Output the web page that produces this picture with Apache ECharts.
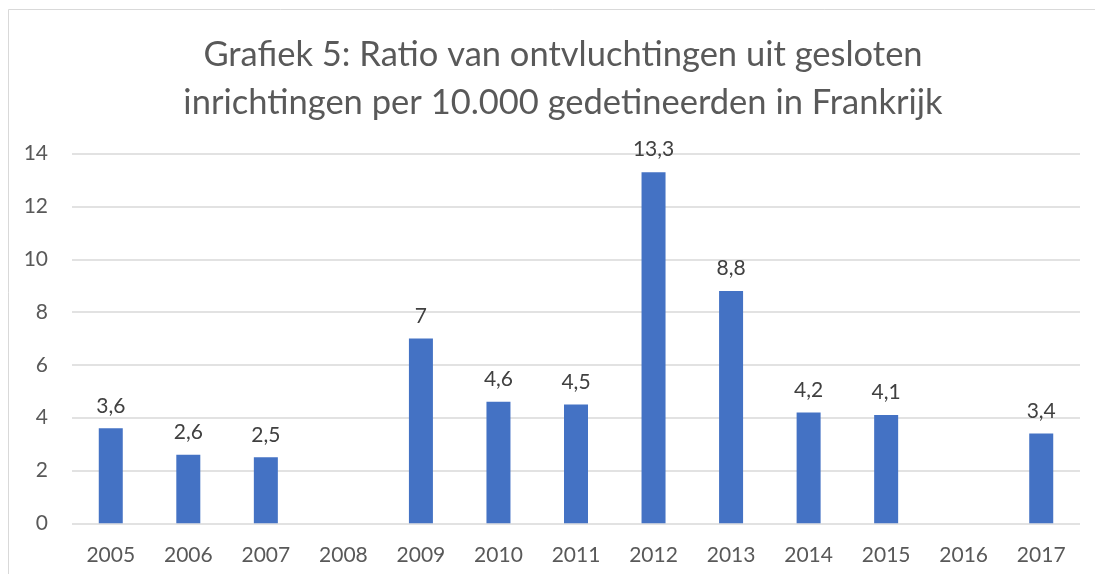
<!DOCTYPE html>
<html>
<head>
<meta charset="utf-8">
<script src="https://cdn.jsdelivr.net/npm/echarts@6/dist/echarts.min.js"></script>
<style>
	html, body { margin: 0; padding: 0; background: #fff; }
	#chart { width: 1095px; height: 574px; }
</style>
</head>
<body>
<div id="chart"></div>
<script>
const titleLines = [
	'Grafiek 5: Ratio van ontvluchtingen uit gesloten',
	'inrichtingen per 10.000 gedetineerden in Frankrijk',
]
const years = ['2005', '2006', '2007', '2008', '2009', '2010', '2011', '2012', '2013', '2014', '2015', '2016', '2017']
// 2008 and 2016 have no value
const ratios = [3.6, 2.6, 2.5, null, 7, 4.6, 4.5, 13.3, 8.8, 4.2, 4.1, null, 3.4]
const yTicks = [0, 2, 4, 6, 8, 10, 12, 14]

const fontFamily = "Lato, 'Open Sans', sans-serif"

const chart = echarts.init(document.getElementById('chart'))
chart.setOption({
	animation: false,
	backgroundColor: '#fff',
	graphic: [
		{
			type: 'rect',
			shape: { x: 8.5, y: 9.5, width: 1200, height: 700 },
			style: { fill: 'none', stroke: '#d9d9d9', lineWidth: 1 },
			silent: true,
		},
	],
	title: {
		text: titleLines.join('\n'),
		left: 558,
		textAlign: 'center',
		top: 26,
		textStyle: {
			color: '#595959',
			fontFamily,
			fontWeight: 'normal',
			fontSize: 34.5,
			lineHeight: 48,
		},
	},
	grid: {
		left: 72,
		right: 15,
		top: 153.7,
		bottom: 574 - 523.3,
		containLabel: false,
	},
	xAxis: {
		type: 'category',
		data: years,
		axisLine: { show: false },
		axisTick: { show: false },
		axisLabel: {
			color: '#595959',
			fontFamily,
			fontSize: 21,
			margin: 21,
		},
	},
	yAxis: {
		type: 'value',
		min: yTicks[0],
		max: yTicks[yTicks.length - 1],
		interval: 2,
		axisLine: { show: false },
		axisTick: { show: false },
		axisLabel: {
			color: '#595959',
			fontFamily,
			fontSize: 21,
			margin: 24,
		},
		splitLine: {
			lineStyle: { color: '#d9d9d9', width: 1.5 },
		},
	},
	series: [
		{
			type: 'bar',
			data: ratios,
			barWidth: 24,
			itemStyle: { color: '#4472c4' },
			label: {
				show: true,
				position: 'top',
				distance: 12,
				color: '#404040',
				fontFamily,
				fontSize: 21,
				formatter: (p) => String(p.value).replace('.', ','),
			},
		},
	],
})
</script>
</body>
</html>
